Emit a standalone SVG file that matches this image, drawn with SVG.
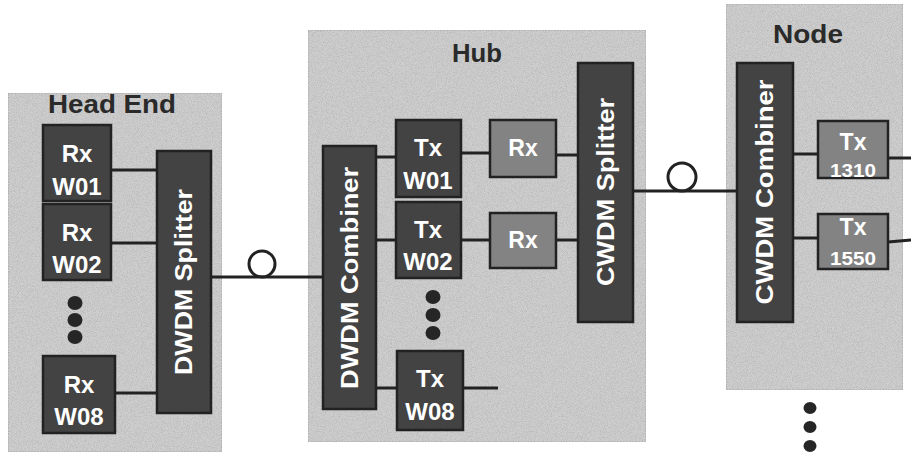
<svg xmlns="http://www.w3.org/2000/svg" width="911" height="454" viewBox="0 0 911 454">
<defs>
<filter id="noise" x="0" y="0" width="100%" height="100%">
<feTurbulence type="fractalNoise" baseFrequency="1.2" numOctaves="1" seed="5" result="n"/>
<feColorMatrix type="matrix" in="n" values="0 0 0 0 0.35  0 0 0 0 0.35  0 0 0 0 0.35  1.2 0 0 0 -0.45" result="g"/>
<feComposite in="g" in2="SourceAlpha" operator="in" result="gm"/>
<feMerge><feMergeNode in="SourceGraphic"/><feMergeNode in="gm"/></feMerge>
</filter>
</defs>
<style>
.panel{fill:#cfcfcf;stroke:#a8a8a8;stroke-width:1;stroke-dasharray:2 1}
.dark{fill:#434343;stroke:#222222;stroke-width:2.5}
.mid{fill:#838383;stroke:#222222;stroke-width:2.5}
.t{font-family:"Liberation Sans","DejaVu Sans",sans-serif;font-weight:bold;fill:#ffffff;text-anchor:middle}
.title{font-family:"Liberation Sans","DejaVu Sans",sans-serif;font-weight:bold;fill:#2a2a2a;text-anchor:middle;font-size:26px}
.ln{stroke:#222222;stroke-width:3;fill:none}
.dot{fill:#262626}
</style>
<rect width="911" height="454" fill="#ffffff"/>

<g id="headend">
<rect class="panel" x="8" y="93" width="214" height="359" filter="url(#noise)"/>
<text class="title" x="112" y="113" textLength="128" lengthAdjust="spacingAndGlyphs">Head End</text>
</g>
<g id="hub">
<rect class="panel" x="308" y="30" width="338" height="412" filter="url(#noise)"/>
<text class="title" x="477" y="62" textLength="50" lengthAdjust="spacingAndGlyphs">Hub</text>
</g>
<g id="node">
<rect class="panel" x="726" y="4" width="177" height="386" filter="url(#noise)"/>
<text class="title" x="808" y="43" textLength="70" lengthAdjust="spacingAndGlyphs">Node</text>
</g>

<g id="connectors">
<line class="ln" x1="111" y1="170" x2="157" y2="170"/>
<line class="ln" x1="111" y1="243" x2="157" y2="243"/>
<line class="ln" x1="115" y1="393" x2="157" y2="393"/>
<line class="ln" x1="211" y1="277" x2="323" y2="277"/>
<circle class="ln" cx="262" cy="264" r="13" stroke-width="2.5"/>
<line class="ln" x1="376" y1="157" x2="396" y2="157"/>
<line class="ln" x1="376" y1="240" x2="396" y2="240"/>
<line class="ln" x1="376" y1="388" x2="397" y2="388"/>
<line class="ln" x1="463" y1="388" x2="498" y2="388"/>
<line class="ln" x1="461" y1="153" x2="490" y2="153"/>
<line class="ln" x1="461" y1="240" x2="490" y2="240"/>
<line class="ln" x1="556" y1="155" x2="578" y2="155"/>
<line class="ln" x1="556" y1="240" x2="578" y2="240"/>
<line class="ln" x1="633" y1="191" x2="737" y2="191"/>
<circle class="ln" cx="682" cy="177" r="14" stroke-width="2.5"/>
<line class="ln" x1="793" y1="154" x2="817" y2="154"/>
<line class="ln" x1="793" y1="238" x2="817" y2="238"/>
<line class="ln" x1="888" y1="158" x2="911" y2="158"/>
<line class="ln" x1="888" y1="242" x2="911" y2="240"/>
</g>

<g id="rx-w01"><rect class="dark" x="43" y="125" width="68" height="76"/><text class="t" x="77" y="162" font-size="24">Rx</text><text class="t" x="77" y="195" font-size="24">W01</text></g>
<g id="rx-w02"><rect class="dark" x="43" y="204" width="68" height="76"/><text class="t" x="77" y="241" font-size="24">Rx</text><text class="t" x="77" y="273" font-size="24">W02</text></g>
<g id="dots-he"><ellipse class="dot" cx="75" cy="303" rx="7.5" ry="7"/><ellipse class="dot" cx="75" cy="320" rx="7.5" ry="7"/><ellipse class="dot" cx="75" cy="337" rx="7.5" ry="7"/></g>
<g id="rx-w08"><rect class="dark" x="43" y="356" width="72" height="77"/><text class="t" x="79" y="393" font-size="24">Rx</text><text class="t" x="79" y="425" font-size="24">W08</text></g>
<g id="dwdm-splitter"><rect class="dark" x="157" y="151" width="54" height="262"/><text class="t" transform="translate(192,282) rotate(-90)" font-size="24" textLength="186" lengthAdjust="spacingAndGlyphs">DWDM Splitter</text></g>

<g id="dwdm-combiner"><rect class="dark" x="323" y="146" width="53" height="263"/><text class="t" transform="translate(358,278) rotate(-90)" font-size="24" textLength="222" lengthAdjust="spacingAndGlyphs">DWDM Combiner</text></g>
<g id="tx-w01"><rect class="dark" x="396" y="120" width="65" height="77"/><text class="t" x="428" y="156" font-size="24">Tx</text><text class="t" x="428" y="189" font-size="24">W01</text></g>
<g id="tx-w02"><rect class="dark" x="396" y="202" width="65" height="76"/><text class="t" x="428" y="238" font-size="24">Tx</text><text class="t" x="428" y="270" font-size="24">W02</text></g>
<g id="dots-hub"><ellipse class="dot" cx="433" cy="297" rx="7.5" ry="7"/><ellipse class="dot" cx="433" cy="315" rx="7.5" ry="7"/><ellipse class="dot" cx="433" cy="333" rx="7.5" ry="7"/></g>
<g id="tx-w08"><rect class="dark" x="397" y="351" width="66" height="79"/><text class="t" x="430" y="387" font-size="24">Tx</text><text class="t" x="430" y="420" font-size="24">W08</text></g>
<g id="rx-1"><rect class="mid" x="490" y="120" width="66" height="57"/><text class="t" x="523" y="156" font-size="23">Rx</text></g>
<g id="rx-2"><rect class="mid" x="490" y="213" width="66" height="55"/><text class="t" x="523" y="248" font-size="23">Rx</text></g>
<g id="cwdm-splitter"><rect class="dark" x="578" y="63" width="55" height="259"/><text class="t" transform="translate(614,192) rotate(-90)" font-size="24" textLength="188" lengthAdjust="spacingAndGlyphs">CWDM Splitter</text></g>

<g id="cwdm-combiner"><rect class="dark" x="737" y="63" width="56" height="259"/><text class="t" transform="translate(773,192) rotate(-90)" font-size="24" textLength="225" lengthAdjust="spacingAndGlyphs">CWDM Combiner</text></g>
<g id="tx-1310"><rect class="mid" x="818" y="121" width="70" height="57"/><text class="t" x="853" y="150" font-size="23">Tx</text><text class="t" x="853" y="177" font-size="19" font-weight="normal" textLength="46" lengthAdjust="spacingAndGlyphs">1310</text></g>
<g id="tx-1550"><rect class="mid" x="818" y="214" width="70" height="55"/><text class="t" x="853" y="235" font-size="23">Tx</text><text class="t" x="853" y="265" font-size="19" font-weight="normal" textLength="46" lengthAdjust="spacingAndGlyphs">1550</text></g>
<g id="dots-node"><ellipse class="dot" cx="810" cy="408" rx="6.5" ry="6"/><ellipse class="dot" cx="810" cy="427" rx="6.5" ry="6"/><ellipse class="dot" cx="810" cy="446" rx="6.5" ry="6"/></g>
</svg>
